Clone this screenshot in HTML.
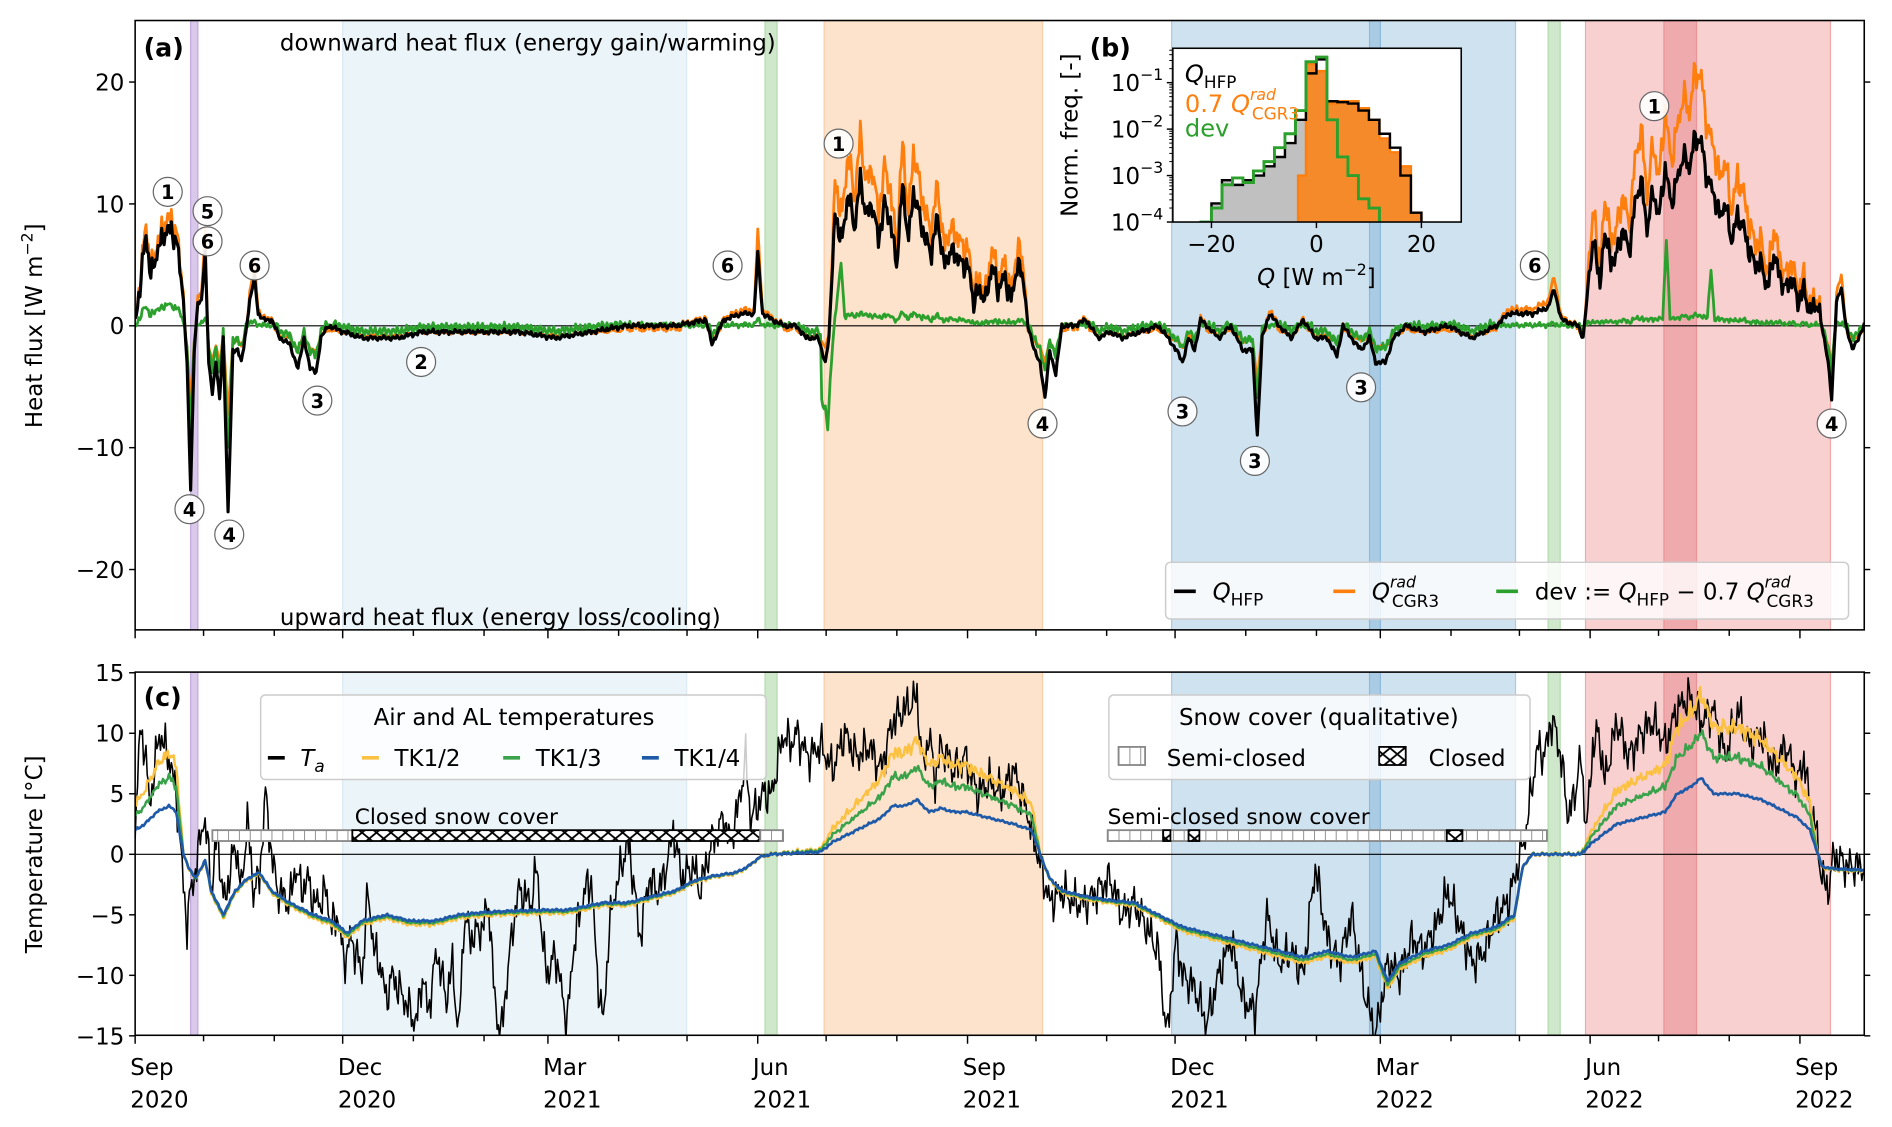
<!DOCTYPE html>
<html><head><meta charset="utf-8">
<style>
html,body{margin:0;padding:0;background:#fff;}
svg{display:block;}
text{font-family:"DejaVu Sans","Liberation Sans",sans-serif;fill:#000;}
</style></head>
<body>
<svg id="s" width="1892" height="1127" viewBox="0 0 1568 934" preserveAspectRatio="none" xmlns="http://www.w3.org/2000/svg">
<defs>
<clipPath id="ca"><rect x="112" y="17" width="1433" height="505"/></clipPath>
<clipPath id="cc"><rect x="112" y="557" width="1433" height="301"/></clipPath>
<clipPath id="ci"><rect x="972" y="40" width="239" height="144"/></clipPath>
<pattern id="hx" width="12" height="10" patternUnits="userSpaceOnUse"><rect width="12" height="10" fill="#fff"/><path d="M0,0L12,10M12,0L0,10" stroke="#000" stroke-width="1.5"/></pattern>
<pattern id="hv" width="9" height="10" patternUnits="userSpaceOnUse"><rect width="9" height="10" fill="#fff"/><path d="M0,0V10" stroke="#888" stroke-width="1.5"/></pattern>
</defs>
<g id="bg"></g>
<g id="series"></g>
<g id="fg"></g>
</svg>
<script>
const NS="http://www.w3.org/2000/svg";
function el(p,t,a,txt){const e=document.createElementNS(NS,t);for(const k in a)e.setAttribute(k,a[k]);if(txt!==undefined)e.innerHTML=txt;p.appendChild(e);return e;}
const bg=document.getElementById('bg'),se=document.getElementById('series'),fg=document.getElementById('fg');
const L=112,R=1545,TA=17,BA=522,TC=557,BC=858;
const bands=[[158,164,'#d9c8ea'],[284,569,'#ebf4f9'],[634,644,'#cfe8cc'],[683,864,'#fde3cb'],[971,1256,'#cfe2ef'],[1135,1144,'#a9cbe3'],[1283,1293,'#cfe8cc'],[1314,1517,'#f8d0d0'],[1379,1406,'#efaaad']];
const edges={'#d9c8ea':'#c2a9dd','#ebf4f9':'#dbe9f3','#cfe8cc':'#b3dbae','#fde3cb':'#f9cfa9','#cfe2ef':'#a9cbe3','#a9cbe3':'#8fbadb','#f8d0d0':'#f0a9aa','#efaaad':'#e99497'};
for(const [y0,y1] of [[TA,BA],[TC,BC]])for(const b of bands){el(bg,'rect',{x:b[0],y:y0,width:b[1]-b[0],height:y1-y0,fill:b[2],stroke:edges[b[2]],'stroke-width':1});}
function interp(k,x){if(x<=k[0][0])return k[0][1];for(let i=1;i<k.length;i++){if(x<=k[i][0]){const a=k[i-1],b=k[i];return a[1]+(b[1]-a[1])*(x-a[0])/(b[0]-a[0]);}}return k[k.length-1][1];}
function noise(x,s){return Math.sin(x*1.7+s)*0.5+Math.sin(x*0.63+s*2.1)*0.3+Math.sin(x*3.1+s*0.7)*0.2;}
function noise2(x,s){return Math.sin(x*2.3+s)*0.4+Math.sin(x*0.9+s*1.3)*0.35+Math.sin(x*4.7+s*0.4)*0.25;}
function kp(a){const r=[];for(let i=0;i<a.length;i+=2)r.push([a[i],a[i+1]]);return r;}
const H=kp([112,0,118,5,121,7.5,125,4,130,6,136,7.5,142,8,148,6,152,2,155,-3,158,-13.5,161,-2,164,2,167,2,170,6,173,-3,176,-5.5,179,-3,182,-6,185,-1,189,-15.5,193,-2,197,-2,200,-3,203,-1,207,2,211,4,214,1,218,0.5,225,0.5,232,-1,240,-1.5,247,-3.5,252,-1,257,-3.5,262,-3.8,266,-1,272,0,285,-0.5,300,-1,330,-1,350,-0.5,400,-0.5,430,-0.5,460,-1,490,-0.5,520,0,560,0,585,0.5,590,-1.5,600,0.5,615,1,625,1,628,6,632,1,640,0.5,650,0,660,0,668,-1,678,-1,684,-3,687,-1,692,9,698,7,703,11,708,8,713,12,718,9,723,10,728,7,733,10,738,8.5,743,5,748,11.5,753,7,757,11,762,9,767,7,772,6,777,9,782,5,787,6,792,6,797,5,802,5,807,2,812,3,817,2,822,5,827,3,833,4,838,2,843,5,848,4,852,0,857,-2,862,-3,866,-6,870,-2,875,-4,880,0,890,0,900,0.5,910,-1,920,-0.5,930,-1,945,-0.5,960,0,968,-1,975,-2,980,-3,985,-1,990,-2,995,0.5,1000,0,1010,-1,1020,0,1030,-2,1038,-2,1042,-9,1046,-1,1052,1,1060,0,1070,-1,1080,0.5,1090,-1,1100,-1,1108,-2.5,1113,0,1120,-1,1128,-2,1135,-1,1140,-3,1148,-3,1155,-1,1165,0,1180,-0.5,1200,0,1220,-1,1240,0,1250,1,1270,1,1283,1.5,1288,3,1294,0.5,1308,0,1312,-1,1318,5,1322,7,1326,3,1330,8,1335,5,1340,6,1345,8,1350,6,1355,10,1360,12,1365,8,1370,11,1375,9,1380,13,1385,10,1390,12,1395,14,1400,13,1405,15.5,1410,15,1415,12,1420,11,1425,9,1430,10,1435,7,1440,9,1445,8,1450,6,1455,5,1460,5,1465,3,1470,6,1475,4,1480,3,1485,4,1490,2,1495,3,1500,1,1505,2,1510,0,1515,-3,1518,-6,1522,2,1526,3,1530,0,1535,-2,1545,0]);
const spikes=kp([684,-5,686,-7.5,690,-2,697,4.5,700,0,1378,0,1381,6.5,1384,0,1415,0,1418,4,1421,0]);
function ya(v){return 270-10.1*v;}
function yc(v){return 708-10.03*v;}
function path(f,step){let d='';for(let x=L;x<=R;x+=step){d+=(x==L?'M':'L')+x.toFixed(1)+','+f(x).toFixed(1);}return d;}
function hv(x){let v=interp(H,x);const summer=(x>690&&x<850)||(x>1316&&x<1510)||x<150;return v+(summer?noise2(x,1)*1.2:noise(x,1)*0.25);}
function ov(x){const v=hv(x);return v>0?v*(x<152?1.12:(x<900?1.3:1.35)):v*0.45-0.35+noise(x,4)*0.15;}
function gv(x){const v=hv(x);let g=v-0.7*ov(x);g+=noise(x,7)*0.25;const s=interp(spikes,x);if(x>680&&x<702||x>1376&&x<1423)g+=s;return g;}
el(se,'line',{x1:L,x2:R,y1:270,y2:270,stroke:'#000','stroke-width':1});
const ga=el(se,'g',{'clip-path':'url(#ca)',fill:'none','stroke-linejoin':'round'});
el(ga,'path',{d:path(x=>ya(ov(x)),1),stroke:'#ff7f0e','stroke-width':2.3});
el(ga,'path',{d:path(x=>ya(gv(x)),1),stroke:'#2ca02c','stroke-width':2.3});
el(ga,'path',{d:path(x=>ya(hv(x)),1),stroke:'#000','stroke-width':2.6});
const TA_=kp([112,2,116,10,120,9,124,4,128,7,132,10,136,9,140,8,146,5,150,0,155,-6,158,-3,163,-1,168,3,172,1,176,-3,180,2,185,-4,190,-2,195,1,200,-3,205,3,210,-3,215,-2,220,5,225,0,230,-3,240,-4,245,-1,250,-3,255,-2,260,-4,265,-4,270,-3,275,-6,280,-5,285,-9,290,-7,295,-8,300,-10,305,-3,310,-8,315,-9,320,-12,325,-10,330,-11,340,-13,345,-14,350,-10,355,-13,362,-8,370,-12,375,-9,380,-15,385,-5,390,-7,400,-6,405,-4,410,-12,415,-15,425,-6,430,-3,440,-4,445,-1,450,-8,455,-10,460,-8,470,-14,475,-8,480,-5,485,-3,490,-2,495,-10,500,-14,505,-6,510,-3,520,1,525,-2,530,-7,538,-2,545,-3,550,-2,558,2,565,-2,575,-1,580,-3,590,1,600,3,605,1,612,4,618,8,622,3,628,4,632,5,640,5,645,8,650,10,655,9,660,10,670,8,680,9,690,7,700,10,710,8,720,9,730,7,740,11,750,12,760,13,765,7,770,10,775,6,780,9,790,7,800,8,810,5,820,6,830,5,840,7,850,4,855,2,860,0,865,-2,870,-4,880,-3,890,-4,900,-4,910,-3,920,-2,930,-5,940,-4,950,-6,960,-8,967,-15,975,-7,980,-10,990,-11,1000,-14,1010,-10,1020,-7,1030,-12,1040,-13,1050,-5,1060,-9,1070,-8,1080,-10,1090,-1,1100,-7,1110,-9,1120,-5,1130,-11,1140,-15,1150,-9,1160,-10,1170,-7,1180,-8,1190,-6,1200,-3,1210,-6,1220,-9,1230,-8,1240,-5,1250,-4,1255,-2,1260,0,1265,2,1270,6,1275,9,1280,8,1285,11,1290,10,1295,7,1300,3,1305,5,1310,8,1315,2,1320,9,1325,10,1330,6,1340,11,1350,8,1360,10,1370,11,1380,9,1390,12,1400,13,1410,11,1420,12,1430,8,1440,12,1450,9,1460,10,1470,7,1480,9,1490,6,1495,8,1500,4,1505,2,1510,-2,1515,-3,1520,0,1530,-1,1545,-1]);
const B=kp([112,2,120,2.5,130,3.5,140,4,146,3.5,152,0,156,-1,162,-2,170,-0.5,175,-3,180,-4,185,-5,195,-3,205,-2,215,-1.5,225,-3,240,-4,250,-4.5,260,-5,275,-5.5,288,-6.5,300,-5.5,320,-5,340,-5.5,360,-5.5,380,-5,400,-4.8,420,-4.7,450,-4.6,470,-4.6,500,-4,520,-4,540,-3.5,560,-3,575,-2.2,590,-1.8,610,-1.5,620,-1,630,-0.2,640,0,680,0.2,690,1,700,1.5,710,2,720,2.5,730,3,740,4,750,4,760,4.5,770,3.5,780,3.8,790,3.5,800,3.5,820,3,840,2.5,855,2,862,0,870,-2,880,-3,900,-3.5,920,-3.8,940,-4,960,-5,980,-6,1000,-6.5,1020,-7,1040,-7.5,1060,-8,1080,-8.5,1100,-8,1120,-8.5,1140,-8,1150,-10.5,1160,-9,1180,-8,1200,-7.5,1220,-6.5,1240,-6,1255,-5,1262,-1,1270,0,1310,0,1320,1,1340,2.5,1360,3,1380,3.5,1390,5,1400,5.5,1410,6.3,1420,5,1440,5,1460,4.5,1480,3.5,1490,3,1500,2,1510,-1,1520,-1.2,1545,-1.3]);
function bv(x){return interp(B,x)+noise(x,9)*0.12;}
function tv(x,f,s){const b=bv(x);return b>0?b*f+noise2(x,s)*0.45*(f-1)*b/3:b*(1+(f-1)*0.05)+noise(x,s)*0.1;}
function tav(x){return interp(TA_,x)+noise2(x,13)*2.2;}
el(se,'line',{x1:L,x2:R,y1:708,y2:708,stroke:'#000','stroke-width':1});
const gc=el(se,'g',{'clip-path':'url(#cc)',fill:'none','stroke-linejoin':'round'});
el(gc,'path',{d:path(x=>yc(tav(x)),1),stroke:'#000','stroke-width':1.3});
el(gc,'path',{d:path(x=>yc(tv(x,2.1,3)),1),stroke:'#fbc142','stroke-width':2});
el(gc,'path',{d:path(x=>yc(tv(x,1.6,5)),1),stroke:'#3aa24a','stroke-width':2});
el(gc,'path',{d:path(x=>yc(bv(x)),1),stroke:'#1f5aa8','stroke-width':2.2});
function bar(x0,x1,t){el(fg,'rect',{x:x0,y:688,width:x1-x0,height:9,fill:t=='c'?'url(#hx)':'url(#hv)',stroke:t=='c'?'#000':'#888','stroke-width':1.5});}
bar(176,292,'s');bar(292,630,'c');bar(630,649,'s');bar(918,1282,'s');bar(964,970,'c');bar(985,994,'c');bar(1199,1212,'c');
el(fg,'text',{x:294,y:683,'font-size':18},'Closed snow cover');
el(fg,'text',{x:918,y:683,'font-size':18},'Semi-closed snow cover');
for(const [t,b] of [[TA,BA],[TC,BC]])el(fg,'rect',{x:L,y:t,width:R-L,height:b-t,fill:'none',stroke:'#000','stroke-width':1.3});
for(const v of [20,10,0,-10,-20]){const y=ya(v);el(fg,'line',{x1:L-5,x2:L,y1:y,y2:y,stroke:'#000','stroke-width':1.2});el(fg,'line',{x1:R,x2:R+5,y1:y,y2:y,stroke:'#000','stroke-width':1.2});el(fg,'text',{x:L-9,y:y+7,'font-size':19,'text-anchor':'end'},v<0?'\u2212'+(-v):v);}
for(const v of [15,10,5,0,-5,-10,-15]){const y=yc(v);el(fg,'line',{x1:L-5,x2:L,y1:y,y2:y,stroke:'#000','stroke-width':1.2});el(fg,'line',{x1:R,x2:R+5,y1:y,y2:y,stroke:'#000','stroke-width':1.2});el(fg,'text',{x:L-9,y:y+7,'font-size':19,'text-anchor':'end'},v<0?'\u2212'+(-v):v);}
const d0=Date.UTC(2020,8,1);
for(let i=0;i<26;i++){const dt=new Date(Date.UTC(2020,8+i,1));const x=L+1.89*(dt-d0)/86400000;if(x>R+1)break;const m=dt.getUTCMonth();const major=(m%3==2);
for(const b of [BA,BC]){el(fg,'line',{x1:x,x2:x,y1:b,y2:b+(major?7:5),stroke:'#000','stroke-width':1.2});}
if(major){const nm={2:'Mar',5:'Jun',8:'Sep',11:'Dec'}[m];el(fg,'text',{x:x-4,y:891,'font-size':19},nm);el(fg,'text',{x:x-4,y:918,'font-size':19},dt.getUTCFullYear());}}
el(fg,'text',{x:35,y:270,'font-size':19,'text-anchor':'middle',transform:'rotate(-90 35 270)'},'Heat flux [W m<tspan dy="-8" font-size="13">\u22122</tspan><tspan dy="8">]</tspan>');
el(fg,'text',{x:35,y:708,'font-size':19,'text-anchor':'middle',transform:'rotate(-90 35 708)'},'Temperature [°C]');
el(fg,'text',{x:119,y:47,'font-size':21,'font-weight':'bold'},'(a)');
el(fg,'text',{x:119,y:585,'font-size':21,'font-weight':'bold'},'(c)');
el(fg,'text',{x:903,y:47,'font-size':21,'font-weight':'bold'},'(b)');
el(fg,'text',{x:232,y:42,'font-size':19},'downward heat flux (energy gain/warming)');
el(fg,'text',{x:232,y:518,'font-size':19},'upward heat flux (energy loss/cooling)');
const mk=[[1,139,159],[5,172,175],[6,172,200],[6,211,220],[4,157,422],[4,190,443],[3,263,332],[2,349,300],[6,603,220],[1,695,119],[4,864,351],[3,980,341],[3,1040,382],[3,1128,321],[6,1272,220],[1,1371,88],[4,1518,351]];
for(const [n,x,y] of mk){el(fg,'circle',{cx:x,cy:y,r:12,fill:'#fff','fill-opacity':0.9,stroke:'#666','stroke-width':1});el(fg,'text',{x:x,y:y+6,'font-size':16,'font-weight':'bold','text-anchor':'middle'},n);}
el(fg,'rect',{x:966,y:466,width:566,height:47,rx:4,fill:'#fff','fill-opacity':0.8,stroke:'#ccc','stroke-width':1.2});
const la=[[973,'#000','<tspan font-style="italic">Q</tspan><tspan dy="5" font-size="14">HFP</tspan>'],[1105,'#ff7f0e','<tspan font-style="italic">Q</tspan><tspan dy="-10" font-size="13" font-style="italic">rad</tspan><tspan dx="-20" dy="16" font-size="14">CGR3</tspan>'],[1240,'#2ca02c','dev := <tspan font-style="italic">Q</tspan><tspan dy="5" font-size="14">HFP</tspan><tspan dy="-5"> − 0.7 </tspan><tspan font-style="italic">Q</tspan><tspan dy="-10" font-size="13" font-style="italic">rad</tspan><tspan dx="-20" dy="16" font-size="14">CGR3</tspan>']];
for(const [x,c,t] of la){el(fg,'line',{x1:x,x2:x+18,y1:490,y2:490,stroke:c,'stroke-width':3});el(fg,'text',{x:x+32,y:497,'font-size':19},t);}
el(fg,'rect',{x:216,y:576,width:419,height:70,rx:4,fill:'#fff','fill-opacity':0.8,stroke:'#ccc','stroke-width':1.2});
el(fg,'text',{x:426,y:601,'font-size':19,'text-anchor':'middle'},'Air and AL temperatures');
const lc=[[222,'#000','<tspan font-style="italic">T<tspan dy="5" font-size="14">a</tspan></tspan>'],[300,'#fbc142','TK1/2'],[417,'#3aa24a','TK1/3'],[532,'#1f5aa8','TK1/4']];
for(const [x,c,t] of lc){el(fg,'line',{x1:x,x2:x+14,y1:628,y2:628,stroke:c,'stroke-width':3});el(fg,'text',{x:x+27,y:635,'font-size':19},t);}
el(fg,'rect',{x:919,y:576,width:349,height:70,rx:4,fill:'#fff','fill-opacity':0.8,stroke:'#ccc','stroke-width':1.2});
el(fg,'text',{x:1093,y:601,'font-size':19,'text-anchor':'middle'},'Snow cover (qualitative)');
el(fg,'rect',{x:927,y:619,width:22,height:15,fill:'url(#hv)',stroke:'#888','stroke-width':1.5});
el(fg,'text',{x:967,y:635,'font-size':19},'Semi-closed');
el(fg,'rect',{x:1143,y:619,width:22,height:15,fill:'url(#hx)',stroke:'#000','stroke-width':1.5});
el(fg,'text',{x:1184,y:635,'font-size':19},'Closed');
const IX0=972,IX1=1211,IY0=40,IY1=184;
el(fg,'rect',{x:IX0,y:IY0,width:IX1-IX0,height:IY1-IY0,fill:'#fff'});
function qx(q){return 1091+4.35*q;}function ly(l){return 184-(l+4)*38.5;}
function stepPath(e0,h,close){let d='';for(let i=0;i<h.length;i++){const x0=qx(e0+2*i),x1=qx(e0+2*i+2),y=ly(h[i]);d+=(i==0?'M'+x0+','+ly(-4.2)+'L':'L')+x0+','+y+'L'+x1+','+y;}d+='L'+qx(e0+2*h.length)+','+ly(-4.2);return d+(close?'Z':'');}
const hb=[-4,-3.6,-3.1,-3.2,-3.1,-3,-2.8,-2.6,-2.3,-1.8,-0.8,-0.5,-1.4,-1.42,-1.45,-1.6,-1.8,-2.1,-2.4,-3.0,-3.8];
const gi=el(fg,'g',{'clip-path':'url(#ci)'});
el(gi,'path',{d:stepPath(-22,hb.slice(0,11),true),fill:'#c0c0c0'});
const ho=[-0.6,-0.75,-1.45,-1.4,-1.4,-1.55,-1.8,-2.2,-2.5,-2.8,-3.8];
el(gi,'path',{d:'M'+qx(-3.5)+','+ly(-4.2)+'L'+qx(-3.5)+','+ly(-3)+'L'+qx(-2)+','+ly(-3)+stepPath(-2,ho,false).replace(/^M[^L]*L/,'L')+'Z',fill:'#f58a2a',stroke:'#ff7f0e','stroke-width':2});
el(gi,'path',{d:stepPath(-22,hb,false),fill:'none',stroke:'#000','stroke-width':2});
const hg=[-4,-3.7,-3.2,-3.05,-3.15,-2.9,-2.7,-2.4,-2.1,-1.6,-0.55,-0.45,-1.8,-2.6,-3.0,-3.5,-3.7,-4.05,-4.3,-4.3,-4.3];
el(gi,'path',{d:stepPath(-22,hg,false),fill:'none',stroke:'#2ca02c','stroke-width':2.4});
el(fg,'rect',{x:IX0,y:IY0,width:IX1-IX0,height:IY1-IY0,fill:'none',stroke:'#000','stroke-width':1.3});
for(const l of [-4,-3,-2,-1]){const y=ly(l);el(fg,'line',{x1:IX0-5,x2:IX0,y1:y,y2:y,stroke:'#000','stroke-width':1.2});el(fg,'text',{x:IX0-8,y:y+7,'font-size':19,'text-anchor':'end'},'10<tspan dy="-9" font-size="13">\u2212'+(-l)+'</tspan>');
for(let k=2;k<10;k++){const yy=y-Math.log10(k)*38.5;if(yy>IY0)el(fg,'line',{x1:IX0-3,x2:IX0,y1:yy,y2:yy,stroke:'#000','stroke-width':0.8});}}
for(const q of [-20,0,20]){const x=qx(q);el(fg,'line',{x1:x,x2:x,y1:IY1,y2:IY1+5,stroke:'#000','stroke-width':1.2});el(fg,'text',{x:x,y:IY1+25,'font-size':19,'text-anchor':'middle'},q<0?'\u221220':q);}
el(fg,'text',{x:1091,y:236,'font-size':19,'text-anchor':'middle'},'<tspan font-style="italic">Q</tspan> [W m<tspan dy="-8" font-size="13">\u22122</tspan><tspan dy="8">]</tspan>');
el(fg,'text',{x:893,y:112,'font-size':19,'text-anchor':'middle',transform:'rotate(-90 893 112)'},'Norm. freq. [-]');
el(fg,'text',{x:982,y:68,'font-size':20},'<tspan font-style="italic">Q</tspan><tspan dy="5" font-size="14">HFP</tspan>');
el(fg,'text',{x:982,y:93,'font-size':20,style:'fill:#ff7f0e'},'0.7 <tspan font-style="italic">Q</tspan><tspan dy="-10" font-size="13" font-style="italic">rad</tspan><tspan dx="-20" dy="16" font-size="14">CGR3</tspan>');
el(fg,'text',{x:982,y:113,'font-size':20,style:'fill:#2ca02c'},'dev');
</script>
</body></html>
